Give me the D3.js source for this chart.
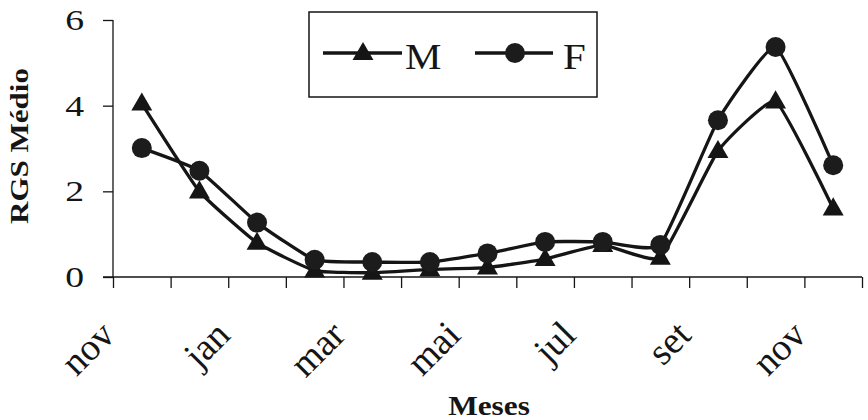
<!DOCTYPE html>
<html><head><meta charset="utf-8">
<script src="https://cdn.jsdelivr.net/npm/d3@7"></script>
<style>body{margin:0;background:#fff}svg{display:block}</style>
</head><body>
<svg id="c" width="868" height="420"></svg>
<script>
const categories = ["nov","dez","jan","fev","mar","abr","mai","jun","jul","ago","set","out","nov"];
const tickLabels = ["nov","","jan","","mar","","mai","","jul","","set","","nov"];
const maleValues = [4.05, 2.0, 0.8, 0.15, 0.1, 0.18, 0.22, 0.42, 0.75, 0.45, 2.94, 4.1, 1.6];
const femaleValues = [3.01, 2.48, 1.27, 0.4, 0.35, 0.35, 0.55, 0.82, 0.82, 0.75, 3.66, 5.37, 2.61];
const yTicks = [0, 2, 4, 6];
const seriesNames = ["M", "F"];

const svg = d3.select("#c");
const font = "'Liberation Serif','Times New Roman',serif";
const ink = "#151515";
const L = 113, R = 862, T = 20, B = 277;

const x = d3.scaleBand().domain(d3.range(categories.length)).range([L, R]);
const xb = d3.scaleLinear().domain([0, categories.length]).range([L, R]);
const y = d3.scaleLinear().domain([0, 6]).range([B, T]);

svg.append("rect").attr("width", 868).attr("height", 420).attr("fill", "#fff");

// y axis
const ya = svg.append("g").attr("transform", `translate(${L},0)`)
  .call(d3.axisLeft(y).tickValues(yTicks).tickSize(10).tickFormat(""));
ya.select(".domain").attr("stroke", ink).attr("stroke-width", 1.3).attr("d", `M0,${B}V${T}`);
ya.selectAll(".tick line").attr("stroke", ink).attr("stroke-width", 1.3);
yTicks.forEach(v => {
  svg.append("text")
    .attr("transform", `translate(84,${y(v) + 10}) scale(1.3,1)`)
    .attr("text-anchor", "end").attr("font-family", font).attr("font-size", 29).attr("fill", ink)
    .text(v);
});

// x axis
const xa = svg.append("g").attr("transform", `translate(0,${B})`)
  .call(d3.axisBottom(xb).tickValues(d3.range(categories.length + 1)).tickSize(11).tickFormat(""));
xa.select(".domain").attr("stroke", ink).attr("stroke-width", 1.3).attr("d", `M${L - 10},0H${R}`);
xa.selectAll(".tick line").attr("stroke", ink).attr("stroke-width", 1.3);

tickLabels.forEach((t, i) => {
  if (!t) return;
  const cx = x(i) + x.bandwidth() / 2;
  svg.append("text")
    .attr("transform", `translate(${cx - 25},337) rotate(-45)`)
    .attr("text-anchor", "end").attr("font-family", font).attr("font-size", 38).attr("fill", ink)
    .text(t);
});

// titles
svg.append("text")
  .attr("transform", `translate(28,146) rotate(-90)`)
  .attr("text-anchor", "middle").attr("font-family", font).attr("font-weight", "bold")
  .attr("font-size", 25).attr("fill", ink).attr("textLength", 156).attr("lengthAdjust", "spacingAndGlyphs")
  .text("RGS Médio");
svg.append("text")
  .attr("transform", `translate(489,415) scale(1.16,1)`)
  .attr("text-anchor", "middle").attr("font-family", font).attr("font-weight", "bold")
  .attr("font-size", 27).attr("fill", ink)
  .text("Meses");

// lines
const line = d3.line()
  .x((d, i) => x(i) + x.bandwidth() / 2)
  .y(d => y(d))
  .curve(d3.curveCardinal.tension(0.6));

const tri = d3.symbol().type(d3.symbolTriangle).size(190);

[maleValues, femaleValues].forEach((vals) => {
  svg.append("path").attr("d", line(vals)).attr("fill", "none")
    .attr("stroke", ink).attr("stroke-width", 3.3).attr("stroke-linejoin", "round");
});
maleValues.forEach((v, i) => {
  svg.append("path").attr("d", tri())
    .attr("transform", `translate(${x(i) + x.bandwidth() / 2},${y(v) + 1})`)
    .attr("fill", ink);
});
femaleValues.forEach((v, i) => {
  svg.append("circle").attr("cx", x(i) + x.bandwidth() / 2).attr("cy", y(v)).attr("r", 10)
    .attr("fill", "#1c1c1c");
});

// legend
const lg = svg.append("g");
lg.append("rect").attr("x", 309).attr("y", 12).attr("width", 288).attr("height", 85)
  .attr("fill", "#fff").attr("stroke", ink).attr("stroke-width", 1.5);
lg.append("line").attr("x1", 323).attr("x2", 402).attr("y1", 53).attr("y2", 53)
  .attr("stroke", ink).attr("stroke-width", 3.3);
lg.append("path").attr("d", tri()).attr("transform", "translate(363,54)").attr("fill", ink);
lg.append("text").attr("transform", "translate(405,69) scale(1.17,1)")
  .attr("font-family", font).attr("font-size", 35).attr("fill", ink).text(seriesNames[0]);
lg.append("line").attr("x1", 475).attr("x2", 553).attr("y1", 53).attr("y2", 53)
  .attr("stroke", ink).attr("stroke-width", 3.3);
lg.append("circle").attr("cx", 515).attr("cy", 53).attr("r", 10).attr("fill", "#1c1c1c");
lg.append("text").attr("transform", "translate(563,69) scale(1.17,1)")
  .attr("font-family", font).attr("font-size", 35).attr("fill", ink).text(seriesNames[1]);
</script>
</body></html>
